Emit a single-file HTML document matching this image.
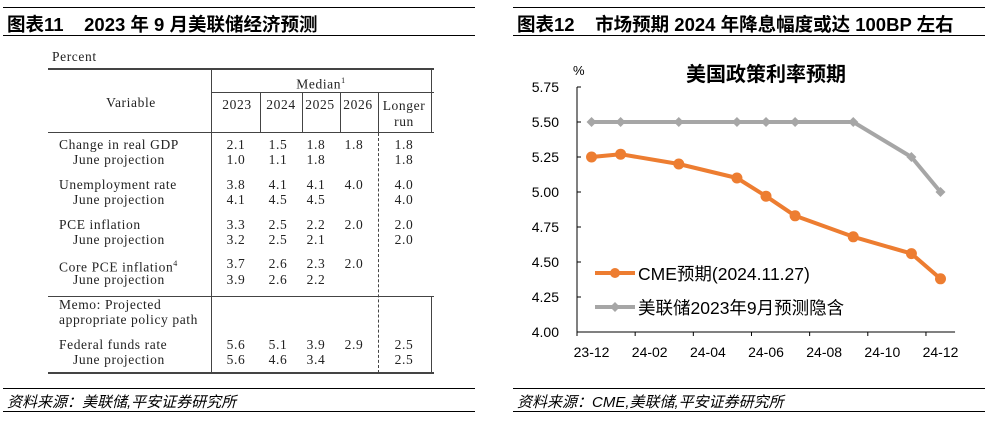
<!DOCTYPE html>
<html><head><meta charset="utf-8">
<style>
body{margin:0;width:991px;height:421px;background:#fff;position:relative;overflow:hidden;font-family:"Liberation Sans","Noto Sans CJK SC",sans-serif;}
.a{position:absolute;}
.hl{position:absolute;height:0;border-top:1.5px solid #000;}
.ttl{position:absolute;font-weight:bold;font-size:18.5px;color:#000;white-space:nowrap;}
.foot{position:absolute;font-style:italic;font-size:15px;white-space:nowrap;}
.t{position:absolute;font-family:"Liberation Serif","Noto Serif CJK SC",serif;font-size:13.5px;letter-spacing:0.6px;color:#222;white-space:nowrap;line-height:14px;}
.c{transform:translateX(-50%);}
.tl{position:absolute;background:#444;}
</style></head><body>
<div class="hl" style="left:3px;top:7px;width:472px"></div>
<div class="ttl" style="left:7px;top:11px">图表11&nbsp;&nbsp;&nbsp;&nbsp;2023 年 9 月美联储经济预测</div>
<div class="hl" style="left:3px;top:35px;width:472px"></div>

<div class="hl" style="left:513px;top:7px;width:472px"></div>
<div class="ttl" style="left:517px;top:11px">图表12&nbsp;&nbsp;&nbsp;&nbsp;市场预期 2024 年降息幅度或达 100BP 左右</div>
<div class="hl" style="left:513px;top:35px;width:472px"></div>

<div>
<div class="t" style="left:52px;top:50px">Percent</div>
<div class="tl" style="left:48px;top:68px;width:386px;height:1.5px"></div>
<div class="tl" style="left:211px;top:68px;width:1px;height:305px"></div>
<div class="tl" style="left:211px;top:92px;width:223px;height:1px"></div>
<div class="tl" style="left:431px;top:68px;width:1px;height:64px"></div>
<div class="tl" style="left:260px;top:92px;width:1px;height:40px"></div>
<div class="tl" style="left:302px;top:92px;width:1px;height:40px"></div>
<div class="tl" style="left:340px;top:92px;width:1px;height:40px"></div>
<div class="tl" style="left:378px;top:92px;width:1px;height:40px"></div>
<div class="tl" style="left:48px;top:132px;width:386px;height:1px"></div>
<div class="a" style="left:378px;top:133px;height:240px;border-left:1px dashed #444"></div>
<div class="tl" style="left:431px;top:297px;width:1px;height:76px"></div>
<div class="tl" style="left:48px;top:296px;width:386px;height:1px"></div>
<div class="tl" style="left:48px;top:372px;width:386px;height:1.5px"></div>
<div class="t c" style="left:321px;top:74px">Median<sup style="font-size:8px">1</sup></div>
<div class="t c" style="left:131px;top:96px">Variable</div>
<div class="t c" style="left:237px;top:98px">2023</div>
<div class="t c" style="left:281px;top:98px">2024</div>
<div class="t c" style="left:320px;top:98px">2025</div>
<div class="t c" style="left:358px;top:98px">2026</div>
<div class="t c" style="left:404px;top:98px;text-align:center;line-height:16px">Longer<br>run</div>

<div class="t" style="left:59px;top:138px">Change in real GDP</div>
<div class="t" style="left:73px;top:153px">June projection</div>
<div class="t" style="left:59px;top:178px">Unemployment rate</div>
<div class="t" style="left:73px;top:193px">June projection</div>
<div class="t" style="left:59px;top:218px">PCE inflation</div>
<div class="t" style="left:73px;top:233px">June projection</div>
<div class="t" style="left:59px;top:257px">Core PCE inflation<sup style="font-size:8px">4</sup></div>
<div class="t" style="left:73px;top:273px">June projection</div>
<div class="t" style="left:59px;top:298px">Memo: Projected</div>
<div class="t" style="left:59px;top:313px">appropriate policy path</div>
<div class="t" style="left:59px;top:338px">Federal funds rate</div>
<div class="t" style="left:73px;top:353px">June projection</div>
</div>
<div id="vals"></div>

<div class="hl" style="left:3px;top:388px;width:472px;border-top-width:1px"></div>
<div class="foot" style="left:7px;top:391px">资料来源：美联储,平安证券研究所</div>
<div class="hl" style="left:3px;top:411px;width:472px;border-top-width:1px"></div>
<div class="hl" style="left:513px;top:388px;width:472px;border-top-width:1px"></div>
<div class="foot" style="left:517px;top:391px">资料来源：CME,美联储,平安证券研究所</div>
<div class="hl" style="left:513px;top:411px;width:472px;border-top-width:1px"></div>

<svg class="a" style="left:0;top:0" width="991" height="421" id="chart"></svg>

<script>
// table data
const rowsY=[138,153,178,193,218,233,257,273,338,353];
const tableVals=[
["2.1","1.5","1.8","1.8","1.8"],["1.0","1.1","1.8","","1.8"],
["3.8","4.1","4.1","4.0","4.0"],["4.1","4.5","4.5","","4.0"],
["3.3","2.5","2.2","2.0","2.0"],["3.2","2.5","2.1","","2.0"],
["3.7","2.6","2.3","2.0",""],["3.9","2.6","2.2","",""],
["5.6","5.1","3.9","2.9","2.5"],["5.6","4.6","3.4","","2.5"]];
const colX=[236,278,316,354,404];
const vh=document.getElementById('vals');
tableVals.forEach((r,i)=>r.forEach((v,j)=>{if(!v)return;
 const d=document.createElement('div');d.className='t c';
 d.style.left=colX[j]+'px';d.style.top=rowsY[i]+'px';d.textContent=v;
 
 
 vh.appendChild(d);}));

// chart data
const monthLabels=["23-12","24-02","24-04","24-06","24-08","24-10","24-12"];
const yTicks=["4.00","4.25","4.50","4.75","5.00","5.25","5.50","5.75"];
const cmeMonths=[0,1,3,5,6,7,9,11,12];
const cmeValues=[5.25,5.27,5.20,5.10,4.97,4.83,4.68,4.56,4.38];
const fedMonths=[0,1,3,5,6,7,9,11,12];
const fedValues=[5.50,5.50,5.50,5.50,5.50,5.50,5.50,5.25,5.00];

const X0=577,MW=29.08,NM=13,Y0=332,Y1=87,VMIN=4.0,VMAX=5.75;
const xs=m=>X0+(m+0.5)*MW;
const ys=v=>Y0-(v-VMIN)/(VMAX-VMIN)*(Y0-Y1);
const svg=document.getElementById('chart');const NS='http://www.w3.org/2000/svg';
function mk(t,a,p){const e=document.createElementNS(NS,t);for(const k in a)e.setAttribute(k,a[k]);(p||svg).appendChild(e);return e;}
const F='Liberation Sans, Noto Sans CJK SC, sans-serif';
let e;
e=mk('line',{x1:X0,y1:Y1,x2:X0,y2:Y0,stroke:'#000','stroke-width':1});


e=mk('line',{x1:X0,y1:Y0,x2:X0+NM*MW,y2:Y0,stroke:'#000','stroke-width':1});


yTicks.forEach(t=>{const y=ys(parseFloat(t));
 mk('line',{x1:X0,y1:y,x2:X0+4,y2:y,stroke:'#000'});
 e=mk('text',{x:559,y:y+5,'text-anchor':'end','font-size':14,'font-family':F,fill:'#000'});e.textContent=t;
 
 });
for(let m=0;m<=NM;m+=2){mk('line',{x1:X0+m*MW,y1:Y0,x2:X0+m*MW,y2:Y0+4,stroke:'#000'});}
monthLabels.forEach((l,i)=>{e=mk('text',{x:xs(i*2),y:357,'text-anchor':'middle','font-size':14,'font-family':F,fill:'#000'});e.textContent=l;
 
 });
e=mk('text',{x:573,y:75,'font-size':13,'font-family':F,fill:'#000'});e.textContent='%';


e=mk('text',{x:766,y:81,'text-anchor':'middle','font-size':20,'font-weight':'bold','font-family':F,fill:'#000'});e.textContent='美国政策利率预期';



function series(ms,vs,col,marker,name){
 const pts=ms.map((m,i)=>xs(m)+','+ys(vs[i])).join(' ');
 e=mk('polyline',{points:pts,fill:'none',stroke:col,'stroke-width':4,'stroke-linejoin':'round'});
 
 
 ms.forEach((m,i)=>{const x=xs(m),y=ys(vs[i]);
  if(marker==='c'){e=mk('circle',{cx:x,cy:y,r:5.5,fill:col});}
  else{e=mk('polygon',{points:`${x},${y-5} ${x+5},${y} ${x},${y+5} ${x-5},${y}`,fill:col});}
  
  });
}
series(fedMonths,fedValues,'#a6a6a6','d','fed-implied');
series(cmeMonths,cmeValues,'#ed7d31','c','cme');

// legend
e=mk('line',{x1:595,y1:273,x2:635,y2:273,stroke:'#ed7d31','stroke-width':4});


mk('circle',{cx:615,cy:273,r:5,fill:'#ed7d31'});
e=mk('text',{x:638,y:280,'font-size':17.5,'font-family':F,fill:'#000'});e.textContent='CME预期(2024.11.27)';


e=mk('line',{x1:595,y1:307,x2:635,y2:307,stroke:'#a6a6a6','stroke-width':4});


mk('polygon',{points:'615,302 620,307 615,312 610,307',fill:'#a6a6a6'});
e=mk('text',{x:638,y:314,'font-size':17.5,'font-family':F,fill:'#000'});e.textContent='美联储2023年9月预测隐含';


</script>
</body></html>
